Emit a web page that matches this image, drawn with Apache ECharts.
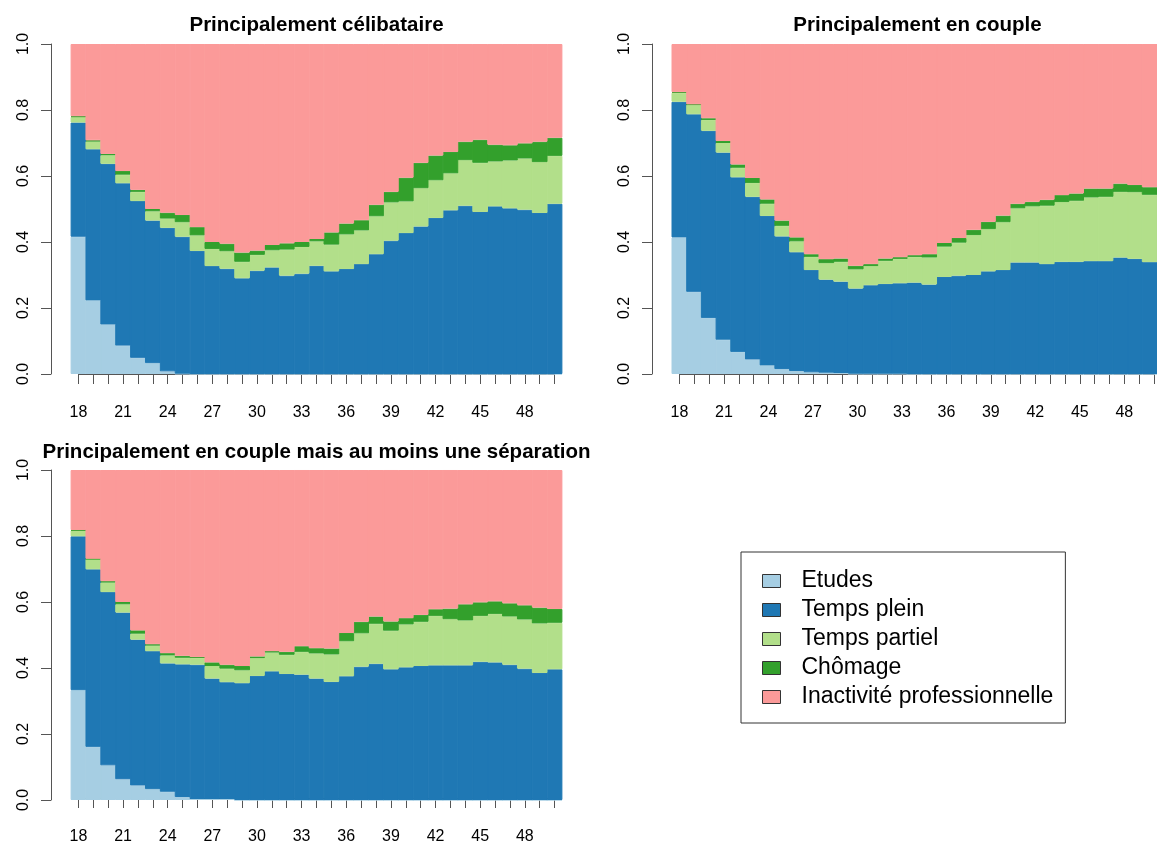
<!DOCTYPE html>
<html>
<head>
<meta charset="utf-8">
<script src="https://cdn.jsdelivr.net/npm/echarts@6/dist/echarts.min.js"></script>
<style>
  html, body { margin: 0; padding: 0; background: #fff; }
  #chart { width: 1157px; height: 845px; }
</style>
</head>
<body>
<div id="chart"></div>
<script>
// Ages (time axis of the sequences)
const ages = ['18','19','20','21','22','23','24','25','26','27','28','29','30','31','32','33','34',
              '35','36','37','38','39','40','41','42','43','44','45','46','47','48','49','50'];
// Ages that carry a label under the axis
const ageTickLabels = ['18','21','24','27','30','33','36','39','42','45','48'];

const stateNames = ['Etudes', 'Temps plein', 'Temps partiel', 'Chômage', 'Inactivité professionnelle'];
const stateColors = ['#A6CEE3', '#1F78B4', '#B2DF8A', '#33A02C', '#FB9A99'];

const panelTitles = [
  'Principalement célibataire',
  'Principalement en couple',
  'Principalement en couple mais au moins une séparation'
];

// Group 1 : principalement célibataire (share of each state by age)
const etudesCelib  = [0.416,0.223,0.150,0.086,0.049,0.033,0.008,0.001,0,0,0,0,0,0,0,0,0,0,0,0,0,0,0,0,0,0,0,0,0,0,0,0,0];
const pleinCelib   = [0.346,0.458,0.487,0.492,0.475,0.432,0.435,0.415,0.373,0.327,0.319,0.290,0.313,0.323,0.298,0.304,0.328,0.311,0.318,0.333,0.363,0.404,0.427,0.447,0.473,0.496,0.510,0.491,0.508,0.502,0.498,0.488,0.516];
const partielCelib = [0.017,0.024,0.026,0.026,0.028,0.028,0.028,0.044,0.047,0.052,0.053,0.050,0.048,0.052,0.079,0.081,0.074,0.081,0.105,0.102,0.115,0.116,0.096,0.116,0.114,0.112,0.138,0.149,0.136,0.145,0.155,0.154,0.145];
const chomageCelib = [0.002,0.003,0.004,0.011,0.006,0.007,0.018,0.022,0.025,0.021,0.023,0.028,0.013,0.016,0.019,0.015,0.007,0.037,0.033,0.031,0.035,0.032,0.072,0.077,0.075,0.065,0.056,0.070,0.051,0.046,0.046,0.062,0.055];
const inactifCelib = [0.219,0.292,0.333,0.385,0.442,0.500,0.511,0.518,0.555,0.600,0.605,0.632,0.626,0.609,0.604,0.600,0.591,0.571,0.544,0.534,0.487,0.448,0.405,0.360,0.338,0.327,0.296,0.290,0.305,0.307,0.301,0.296,0.284];

// Group 2 : principalement en couple
const etudesCouple  = [0.414,0.249,0.170,0.104,0.067,0.044,0.026,0.015,0.009,0.005,0.004,0.003,0.001,0.001,0.001,0.001,0,0,0,0,0,0,0,0,0,0,0,0,0,0,0,0,0];
const pleinCouple   = [0.411,0.538,0.567,0.567,0.529,0.493,0.453,0.402,0.360,0.310,0.282,0.277,0.258,0.268,0.272,0.274,0.277,0.271,0.294,0.298,0.300,0.311,0.315,0.338,0.338,0.333,0.340,0.340,0.342,0.342,0.353,0.349,0.339];
const partielCouple = [0.027,0.029,0.033,0.029,0.029,0.042,0.037,0.032,0.033,0.040,0.050,0.060,0.058,0.058,0.070,0.074,0.078,0.082,0.092,0.100,0.121,0.128,0.145,0.164,0.170,0.177,0.181,0.185,0.193,0.195,0.199,0.202,0.204];
const chomageCouple = [0.002,0.001,0.005,0.006,0.010,0.015,0.013,0.016,0.012,0.008,0.012,0.010,0.011,0.006,0.007,0.005,0.005,0.010,0.011,0.014,0.016,0.022,0.020,0.014,0.014,0.018,0.021,0.022,0.027,0.025,0.025,0.022,0.023];
const inactifCouple = [0.146,0.183,0.225,0.294,0.365,0.406,0.471,0.535,0.586,0.637,0.652,0.650,0.672,0.667,0.650,0.646,0.640,0.637,0.603,0.588,0.563,0.539,0.520,0.484,0.478,0.472,0.458,0.453,0.438,0.438,0.423,0.427,0.434];

// Group 3 : principalement en couple mais au moins une séparation
const etudesSepar  = [0.333,0.161,0.105,0.063,0.044,0.033,0.025,0.009,0.003,0.003,0.003,0,0,0,0,0,0,0,0,0,0,0,0,0,0,0,0,0,0,0,0,0,0];
const pleinSepar   = [0.466,0.538,0.525,0.505,0.442,0.418,0.389,0.402,0.407,0.365,0.354,0.354,0.376,0.390,0.382,0.380,0.368,0.358,0.375,0.404,0.413,0.396,0.402,0.406,0.408,0.408,0.408,0.419,0.417,0.410,0.398,0.385,0.396];
const partielSepar = [0.018,0.031,0.029,0.025,0.018,0.017,0.024,0.020,0.021,0.038,0.041,0.039,0.054,0.057,0.058,0.069,0.076,0.083,0.106,0.101,0.121,0.117,0.130,0.134,0.150,0.140,0.136,0.139,0.147,0.146,0.149,0.150,0.141];
const chomageSepar = [0.001,0.001,0.004,0.007,0.010,0.004,0.007,0.006,0.002,0.011,0.012,0.013,0.005,0.004,0.009,0.017,0.016,0.018,0.025,0.035,0.022,0.028,0.019,0.021,0.020,0.032,0.049,0.041,0.038,0.040,0.043,0.048,0.042];
const inactifSepar = [0.182,0.269,0.337,0.400,0.486,0.528,0.555,0.563,0.567,0.583,0.590,0.594,0.565,0.549,0.551,0.534,0.540,0.541,0.494,0.460,0.444,0.459,0.449,0.439,0.422,0.420,0.407,0.401,0.398,0.404,0.410,0.417,0.421];

const panelStates = [
  [etudesCelib, pleinCelib, partielCelib, chomageCelib, inactifCelib],
  [etudesCouple, pleinCouple, partielCouple, chomageCouple, inactifCouple],
  [etudesSepar, pleinSepar, partielSepar, chomageSepar, inactifSepar]
];

// Plot regions of the three panels (pixels)
const PLOT_W = 491, PLOT_H = 330;
const panelBoxes = [
  { left: 71,  top: 44 },
  { left: 672, top: 44 },
  { left: 71,  top: 470 }
];
const titleTops = [15, 15, 442];

const FONT = '"Liberation Sans", Arial, Helvetica, sans-serif';
const AXIS_GRAY = '#555';

const grid = [], xAxis = [], yAxis = [], series = [], title = [];
const band = PLOT_W / ages.length;
const half = band / 2;

panelBoxes.forEach((box, i) => {
  // grid 2i: stacked bars; grid 2i+1: age axis running from the first to the last bar centre
  grid.push({ left: box.left, top: box.top, width: PLOT_W, height: PLOT_H });
  grid.push({ left: box.left + half, top: box.top, width: PLOT_W - 2 * half, height: PLOT_H });

  xAxis.push({ type: 'category', gridIndex: 2 * i, data: ages, show: false });
  xAxis.push({
    type: 'category', gridIndex: 2 * i + 1, data: ages, boundaryGap: false, offset: 7,
    axisLine: { show: true, lineStyle: { color: AXIS_GRAY, width: 1 } },
    axisTick: { show: true, interval: 0, length: 10, lineStyle: { color: AXIS_GRAY } },
    axisLabel: { interval: 0, margin: 24, fontSize: 16, color: '#000', fontFamily: FONT,
                 formatter: v => (ageTickLabels.includes(v) ? v : '') },
    splitLine: { show: false }
  });

  yAxis.push({
    type: 'value', gridIndex: 2 * i, min: 0, max: 1, interval: 0.2, offset: 20,
    axisLine: { show: true, lineStyle: { color: AXIS_GRAY, width: 1 } },
    axisTick: { show: true, length: 10, lineStyle: { color: AXIS_GRAY } },
    axisLabel: { rotate: 90, margin: 19, fontSize: 16, color: '#000', fontFamily: FONT,
                 formatter: v => v.toFixed(1) },
    splitLine: { show: false }
  });
  yAxis.push({ type: 'value', gridIndex: 2 * i + 1, show: false });

  panelStates[i].forEach((values, s) => {
    series.push({
      type: 'bar', name: stateNames[s], xAxisIndex: 2 * i, yAxisIndex: 2 * i,
      stack: 'panel' + i,
      // bars slightly wider than their band so adjacent ages meet without seams
      barWidth: band + 0.8, data: values,
      itemStyle: { color: stateColors[s], borderColor: stateColors[s], borderWidth: 1 },
      emphasis: { disabled: true }, silent: true
    });
  });

  title.push({
    text: panelTitles[i], left: box.left + PLOT_W / 2, top: titleTops[i],
    textAlign: 'center', padding: 0,
    textStyle: { fontSize: 20.5, fontWeight: 'bold', color: '#000', fontFamily: FONT }
  });
});

const chart = echarts.init(document.getElementById('chart'), null, { renderer: 'canvas' });
chart.setOption({
  animation: false,
  backgroundColor: '#fff',
  title, grid, xAxis, yAxis, series,
  legend: {
    orient: 'vertical', left: 741, top: 552,
    data: stateNames, icon: 'rect', itemWidth: 18, itemHeight: 13, itemGap: 5,
    padding: [17, 12, 14, 21], borderColor: '#333', borderWidth: 1,
    selectedMode: false,
    itemStyle: { borderColor: '#333', borderWidth: 1 },
    textStyle: { fontSize: 23, lineHeight: 24, color: '#000', fontFamily: FONT, padding: [0, 0, 0, 16] }
  }
});
</script>
</body>
</html>
